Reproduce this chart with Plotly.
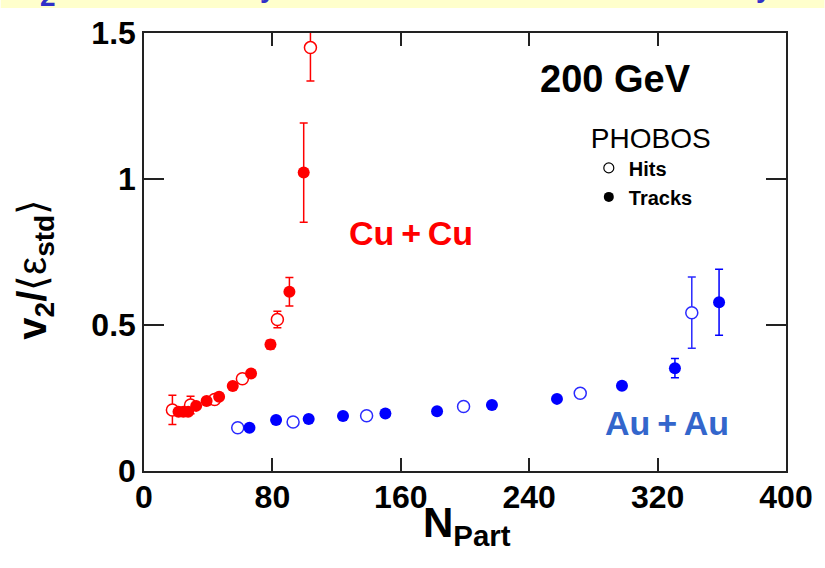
import plotly.graph_objects as go

# --- Cu+Cu (red) ---
cu_hits_n = [17.7, 29.0, 44.0, 61.3, 83.1, 103.7]
cu_hits_v = [0.209, 0.226, 0.245, 0.316, 0.519, 1.450]
cu_hits_e = [0.050, 0.030, 0.010, 0.012, 0.028, 0.114]

cu_trk_n = [21.5, 24.5, 27.5, 32.5, 39.0, 46.8, 55.3, 66.7, 78.8, 90.6, 99.5]
cu_trk_v = [0.203, 0.203, 0.203, 0.223, 0.240, 0.254, 0.291, 0.334, 0.433, 0.614, 1.022]
cu_trk_e = [0.008, 0.008, 0.008, 0.008, 0.008, 0.010, 0.010, 0.012, 0.015, 0.049, 0.170]

# --- Au+Au (blue) ---
au_hits_n = [58.4, 92.9, 138.7, 199.1, 271.8, 341.3]
au_hits_v = [0.148, 0.168, 0.189, 0.221, 0.266, 0.542]
au_hits_e = [0.008, 0.008, 0.008, 0.008, 0.008, 0.122]

au_trk_n = [65.7, 82.3, 102.6, 124.0, 150.4, 182.6, 216.8, 257.3, 297.8, 330.8, 358.3]
au_trk_v = [0.148, 0.175, 0.178, 0.188, 0.197, 0.205, 0.226, 0.247, 0.292, 0.352, 0.578]
au_trk_e = [0.008, 0.008, 0.010, 0.008, 0.010, 0.008, 0.008, 0.008, 0.008, 0.033, 0.113]

x_ticks = [0, 80, 160, 240, 320, 400]
y_ticks = [0, 0.5, 1, 1.5]
y_tick_text = ["0", "0.5", "1", "1.5"]

RED = "#ff0000"
BLUE = "#0000ff"
BLUE_OPEN = "#2a2aff"
HEADER_BLUE = "#3030c8"
LABEL_FONT = "Liberation Sans Narrow, Arial Narrow, Liberation Sans, Arial, sans-serif"
TEXT_FONT = "Liberation Sans, Arial, sans-serif"

fig = go.Figure()


def err(vals, color):
    return dict(type="data", array=vals, visible=True, color=color,
                thickness=1.5, width=4)


def hits(n, v, e, color):
    return go.Scatter(
        x=n, y=v, mode="markers", showlegend=False, cliponaxis=False,
        error_y=err(e, color),
        marker=dict(symbol="circle", size=12, color="white",
                    line=dict(color=color, width=1.5)),
    )


def tracks(n, v, e, color):
    return go.Scatter(
        x=n, y=v, mode="markers", showlegend=False, cliponaxis=False,
        error_y=err(e, color),
        marker=dict(symbol="circle", size=12, color=color,
                    line=dict(width=0)),
    )


fig.add_trace(hits(cu_hits_n, cu_hits_v, cu_hits_e, RED))
fig.add_trace(tracks(cu_trk_n, cu_trk_v, cu_trk_e, RED))
fig.add_trace(hits(au_hits_n, au_hits_v, au_hits_e, BLUE_OPEN))
fig.add_trace(tracks(au_trk_n, au_trk_v, au_trk_e, BLUE))

# legend entries (black symbols)
fig.add_trace(go.Scatter(x=[None], y=[None], mode="markers", name="<b>Hits</b>",
                         marker=dict(symbol="circle", size=10, color="white",
                                     line=dict(color="black", width=1.2))))
fig.add_trace(go.Scatter(x=[None], y=[None], mode="markers", name="<b>Tracks</b>",
                         marker=dict(symbol="circle", size=10, color="black",
                                     line=dict(width=0))))

axis_common = dict(
    showline=True, linecolor="#222222", linewidth=1.5, mirror="ticks",
    ticks="inside", tickcolor="#222222", tickwidth=1.5,
    showgrid=False, zeroline=False,
    tickfont=dict(family=LABEL_FONT, size=32, color="black", weight="bold"),
)

fig.update_xaxes(range=[0, 400], tickvals=x_ticks, ticklen=13,
                 ticklabelstandoff=-3, **axis_common)
fig.update_yaxes(range=[0, 1.5], tickvals=y_ticks, ticktext=y_tick_text,
                 ticklen=20, **axis_common)

annotations = [
    dict(text="<b>Cu\u2009+\u2009Cu</b>", x=411, y=233, font=dict(size=34, color=RED)),
    dict(text="<b>Au\u2009+\u2009Au</b>", x=667, y=423, font=dict(size=34, color="#3366cc")),
    dict(text="<b>200 GeV</b>", x=616, y=79, font=dict(size=38, color="black")),
    dict(text="<b>N<sub>Part</sub></b>", x=467, y=525,
         font=dict(size=42, color="black", family=LABEL_FONT)),
    dict(text="<b>v<sub>2</sub>/</b>\u27e8\u03b5<b><sub>std</sub></b>\u27e9",
         x=34, y=269, textangle=-90,
         font=dict(size=40, color="black", family=LABEL_FONT)),
    # slide heading above the chart, cut off by the page edge
    dict(text="<b>2</b>", x=47, y=14, yanchor="bottom",
         font=dict(size=28, color=HEADER_BLUE)),
    dict(text="<b>y</b>", x=268, y=5, yanchor="bottom",
         font=dict(size=28, color=HEADER_BLUE)),
    dict(text="<b>y</b>", x=764, y=5, yanchor="bottom",
         font=dict(size=28, color=HEADER_BLUE)),
]

W, H = 825, 568
L, R, T, B = 143.5, 38.5, 33, 97
pw, ph = W - L - R, H - T - B


def px_to_paper(xp, yp):
    return (xp - L) / pw, (H - B - yp) / ph


ann_objs = []
for a in annotations:
    xp, yp = px_to_paper(a.pop("x"), a.pop("y"))
    a.setdefault("font", {})
    a["font"].setdefault("family", TEXT_FONT)
    a.setdefault("yanchor", "middle")
    ann_objs.append(dict(xref="paper", yref="paper", x=xp, y=yp,
                         showarrow=False, xanchor="center", **a))

# header strip along the top edge
y_top = px_to_paper(0, 0)[1]
y_band = px_to_paper(0, 8)[1]
x_left = px_to_paper(0, 0)[0]
x_right = px_to_paper(W, 0)[0]

fig.update_layout(
    width=W, height=H,
    margin=dict(l=L, r=R, t=T, b=B, pad=0),
    paper_bgcolor="white", plot_bgcolor="white",
    annotations=ann_objs,
    shapes=[dict(type="rect", xref="paper", yref="paper",
                 x0=x_left, x1=x_right, y0=y_band, y1=y_top + 0.05,
                 fillcolor="#ffffcc", line=dict(width=0), layer="below")],
    legend=dict(
        x=px_to_paper(589, 0)[0], y=px_to_paper(0, 112)[1],
        xanchor="left", yanchor="top",
        bgcolor="rgba(0,0,0,0)", borderwidth=0,
        title=dict(text="PHOBOS", font=dict(size=28, family=TEXT_FONT, color="black")),
        font=dict(size=20, family=TEXT_FONT, color="black"),
        itemwidth=30, tracegroupgap=0,
    ),
)

fig.write_html("out.html")
